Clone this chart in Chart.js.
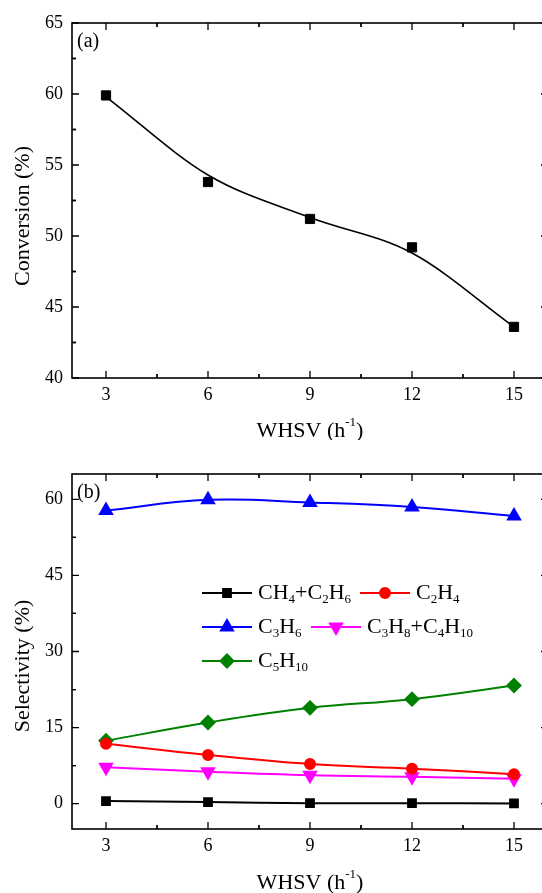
<!doctype html>
<html>
<head>
    <meta charset="UTF-8"/>
    <title>Conversion and selectivity vs WHSV</title>
    <style type="text/css">
        html, body {
            margin: 0;
            background-color: #fff;
            width: 542px;
            height: 893px;
            overflow: hidden;
        }
        .page {
            position: relative;
            width: 542px;
            height: 893px;
            overflow: hidden;
        }
        canvas {
            position: absolute;
            left: 0;
        }
        #topChart { top: 0; width: 600px; height: 440px; }
        #bottomChart { top: 440px; width: 600px; height: 453px; }
    </style>
</head>
<body>
    <div class="page">
        <canvas id="topChart" width="600" height="440"></canvas>
        <canvas id="bottomChart" width="600" height="453"></canvas>
    </div>

    <script src="https://cdn.jsdelivr.net/npm/chart.js"></script>
    <script>
        // Data arrays
        const whsv = [3, 6, 9, 12, 15];
        const xTicks = [3, 6, 9, 12, 15];
        const conversionTicks = [40, 45, 50, 55, 60, 65];
        const selectivityTicks = [0, 15, 30, 45, 60];

        const conversion = [59.9, 53.8, 51.2, 49.2, 43.6];
        const conversionFit = [59.8, 54.3, 51.3, 48.8, 43.6];

        const seriesNames = ['CH4+C2H6', 'C2H4', 'C3H6', 'C3H8+C4H10', 'C5H10'];
        const ch4c2h6 = [0.5, 0.3, 0.1, 0.1, 0.05];
        const c2h4 = [11.8, 9.6, 7.8, 6.9, 5.8];
        const c3h6 = [57.8, 59.9, 59.4, 58.5, 56.7];
        const c3h8c4h10 = [7.2, 6.3, 5.6, 5.3, 4.9];
        const c5h10 = [12.4, 16.0, 18.9, 20.6, 23.3];

        const serif = "'Liberation Serif', 'Times New Roman', serif";

        function pts(ys) {
            return whsv.map((x, i) => ({ x: x, y: ys[i] }));
        }

        // text with digits drawn as subscripts (chemical formulas)
        function drawFormula(ctx, text, x, y, size) {
            let cx = x;
            for (const ch of text) {
                const sub = ch >= '0' && ch <= '9';
                ctx.font = (sub ? Math.round(size * 0.6) : size) + 'px ' + serif;
                ctx.fillText(ch, cx, sub ? y + size * 0.3 : y);
                cx += ctx.measureText(ch).width;
            }
        }

        function drawTickMarks(ctx, chart, minorStepX, minorStepY) {
            const a = chart.chartArea;
            const xs = chart.scales.x, ys = chart.scales.y;
            ctx.save();
            ctx.strokeStyle = '#000';
            ctx.lineWidth = 1.3;
            const mark = (scale, v, len) => {
                if (v < scale.min || v > scale.max) return;
                const p = scale.getPixelForValue(v);
                ctx.beginPath();
                if (scale.axis === 'x') {
                    ctx.moveTo(p, a.bottom); ctx.lineTo(p, a.bottom - len);
                    ctx.moveTo(p, a.top); ctx.lineTo(p, a.top + len);
                } else {
                    ctx.moveTo(a.left, p); ctx.lineTo(a.left + len, p);
                    ctx.moveTo(a.right, p); ctx.lineTo(a.right - len, p);
                }
                ctx.stroke();
            };
            xs.ticks.forEach(t => { mark(xs, t.value, 7); mark(xs, t.value + minorStepX, 4); mark(xs, t.value - minorStepX, 4); });
            ys.ticks.forEach(t => { mark(ys, t.value, 7); mark(ys, t.value + minorStepY, 4); mark(ys, t.value - minorStepY, 4); });
            ctx.lineWidth = 1.6;
            ctx.strokeRect(a.left, a.top, a.right - a.left, a.bottom - a.top);
            ctx.restore();
        }

        const decorPlugin = {
            id: 'decor',
            afterDraw(chart, args, opts) {
                const ctx = chart.ctx;
                const a = chart.chartArea;
                drawTickMarks(ctx, chart, 1.5, opts.minorY);
                ctx.save();
                ctx.fillStyle = '#000';
                ctx.textBaseline = 'middle';
                // panel label
                ctx.font = '20px ' + serif;
                ctx.textAlign = 'left';
                ctx.fillText(opts.panel, a.left + 5, opts.panelY);
                // x title with superscript
                const big = '22px ' + serif, small = '13px ' + serif;
                ctx.font = big;
                const w1 = ctx.measureText('WHSV (h').width;
                const w3 = ctx.measureText(')').width;
                ctx.font = small;
                const w2 = ctx.measureText('-1').width;
                let x0 = (a.left + a.right) / 2 - (w1 + w2 + w3) / 2;
                ctx.font = big;
                ctx.fillText('WHSV (h', x0, opts.xTitleY);
                ctx.font = small;
                ctx.fillText('-1', x0 + w1, opts.xTitleY - 8);
                ctx.font = big;
                ctx.fillText(')', x0 + w1 + w2, opts.xTitleY);
                // y title
                ctx.translate(23, opts.yTitleY);
                ctx.rotate(-Math.PI / 2);
                ctx.textAlign = 'center';
                ctx.fillText(opts.yTitle, 0, 0);
                ctx.restore();

                // legend with subscripts
                if (opts.legend) {
                    ctx.save();
                    ctx.textBaseline = 'middle';
                    ctx.textAlign = 'left';
                    ctx.fillStyle = '#000';
                    opts.legend.forEach(item => {
                        const ds = chart.data.datasets[item.ds];
                        ctx.strokeStyle = ds.borderColor;
                        ctx.lineWidth = ds.borderWidth;
                        ctx.beginPath();
                        ctx.moveTo(item.x, item.y);
                        ctx.lineTo(item.x + 50, item.y);
                        ctx.stroke();
                        ctx.fillStyle = ds.pointBackgroundColor;
                        Chart.helpers.drawPoint(ctx, {
                            pointStyle: ds.pointStyle,
                            radius: ds.pointRadius,
                            rotation: ds.pointRotation || 0,
                            borderWidth: 1
                        }, item.x + 25, item.y);
                        ctx.fillStyle = '#000';
                        drawFormula(ctx, ds.label, item.x + 56, item.y, 22);
                    });
                    ctx.restore();
                }
            }
        };

        function axes(yMin, yMax, yTicks, xAxisHeight) {
            return {
                x: {
                    type: 'linear',
                    min: 2,
                    max: 16,
                    afterBuildTicks: s => { s.ticks = xTicks.map(v => ({ value: v })); },
                    afterFit: s => { s.height = xAxisHeight; },
                    grid: { display: false, drawTicks: false },
                    border: { display: false },
                    ticks: { color: '#000', padding: 6, font: { family: serif, size: 18 }, maxRotation: 0 }
                },
                y: {
                    min: yMin,
                    max: yMax,
                    afterBuildTicks: s => { s.ticks = yTicks.map(v => ({ value: v })); },
                    afterFit: s => { s.width = 72; },
                    grid: { display: false, drawTicks: false },
                    border: { display: false },
                    ticks: { color: '#000', padding: 9, font: { family: serif, size: 18 } }
                }
            };
        }

        const topChart = new Chart(document.getElementById('topChart'), {
            type: 'line',
            data: {
                datasets: [
                    {
                        label: 'fit',
                        data: pts(conversionFit),
                        borderColor: '#000',
                        borderWidth: 1.6,
                        pointRadius: 0,
                        cubicInterpolationMode: 'monotone',
                        fill: false
                    },
                    {
                        label: 'Conversion',
                        data: pts(conversion),
                        showLine: false,
                        pointStyle: 'rect',
                        pointRadius: 6.5,
                        pointBackgroundColor: '#000',
                        pointBorderColor: '#000'
                    }
                ]
            },
            options: {
                responsive: false,
                animation: false,
                devicePixelRatio: 1,
                layout: { padding: { left: 0, right: 52, top: 23, bottom: 0 } },
                plugins: {
                    legend: { display: false },
                    tooltip: { enabled: false },
                    decor: { panel: '(a)', panelY: 42, yTitle: 'Conversion (%)', yTitleY: 216, xTitleY: 431, minorY: 2.5 }
                },
                scales: axes(40, 65, conversionTicks, 62)
            },
            plugins: [decorPlugin]
        });

        const colors = ['#000000', '#ff0000', '#0000ff', '#ff00ff', '#008000'];
        const styles = [
            { pointStyle: 'rect', pointRadius: 5.5, pointRotation: 0 },
            { pointStyle: 'circle', pointRadius: 5, pointRotation: 0 },
            { pointStyle: 'triangle', pointRadius: 7, pointRotation: 0 },
            { pointStyle: 'triangle', pointRadius: 7, pointRotation: 180 },
            { pointStyle: 'rectRot', pointRadius: 6.5, pointRotation: 0 }
        ];
        const values = [ch4c2h6, c2h4, c3h6, c3h8c4h10, c5h10];

        const bottomChart = new Chart(document.getElementById('bottomChart'), {
            type: 'line',
            data: {
                datasets: values.map((v, i) => Object.assign({
                    label: seriesNames[i],
                    data: pts(v),
                    borderColor: colors[i],
                    borderWidth: 2,
                    pointBackgroundColor: colors[i],
                    pointBorderColor: colors[i],
                    tension: 0.4,
                    fill: false
                }, styles[i]))
            },
            options: {
                responsive: false,
                animation: false,
                devicePixelRatio: 1,
                layout: { padding: { left: 0, right: 52, top: 34, bottom: 0 } },
                plugins: {
                    legend: { display: false },
                    tooltip: { enabled: false },
                    decor: {
                        panel: '(b)', panelY: 53, yTitle: 'Selectivity (%)', yTitleY: 226, xTitleY: 443, minorY: 7.5,
                        legend: [
                            { ds: 0, x: 202, y: 153 },
                            { ds: 1, x: 360, y: 153 },
                            { ds: 2, x: 202, y: 187 },
                            { ds: 3, x: 311, y: 187 },
                            { ds: 4, x: 202, y: 221 }
                        ]
                    }
                },
                scales: axes(-5, 65, selectivityTicks, 64)
            },
            plugins: [decorPlugin]
        });
    </script>
</body>
</html>
